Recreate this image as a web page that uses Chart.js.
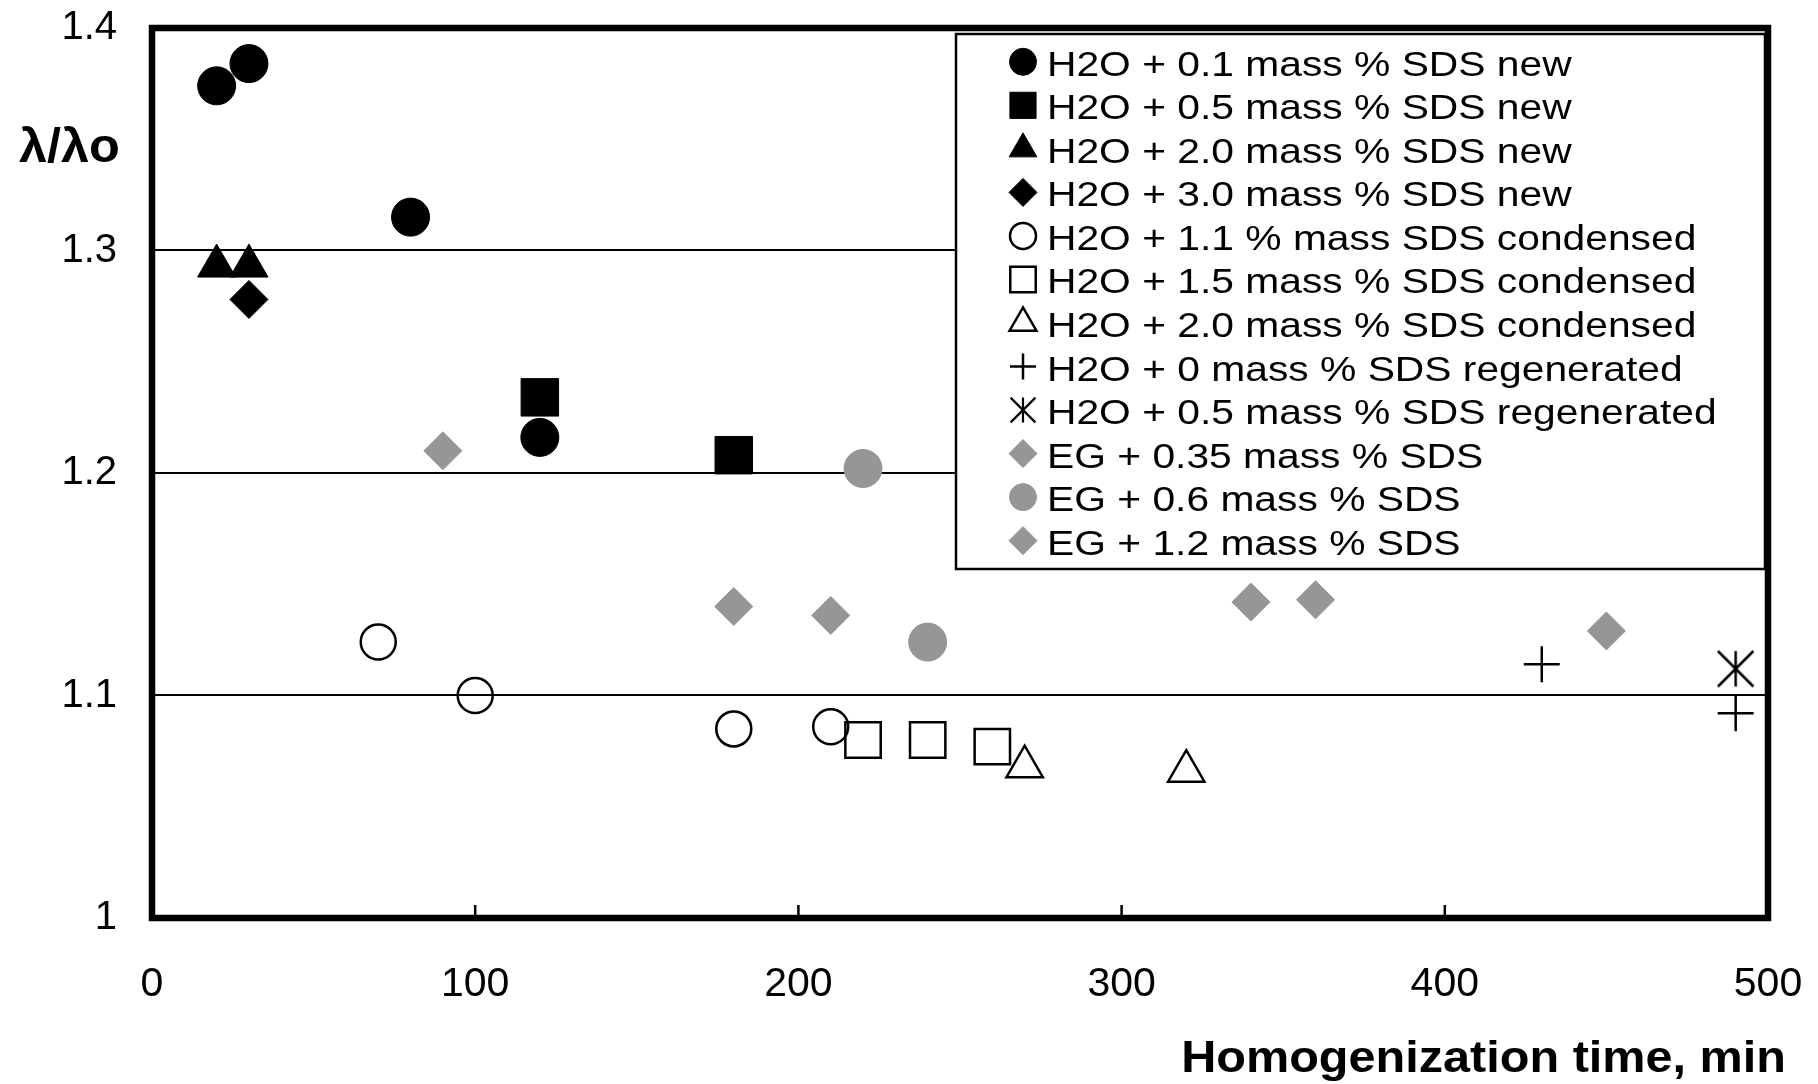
<!DOCTYPE html>
<html>
<head>
<meta charset="utf-8">
<script src="https://cdn.jsdelivr.net/npm/chart.js@4.4.1/dist/chart.umd.min.js"></script>
<style>
  html, body { margin: 0; padding: 0; background: #fff; }
  canvas { display: block; }
</style>
</head>
<body>
<canvas id="chart" width="1818" height="1084"></canvas>
<script>
const FONT = '"Liberation Sans", Arial, sans-serif';

const xTicks = [0, 100, 200, 300, 400, 500];
const yTicks = [1, 1.1, 1.2, 1.3, 1.4];

const seriesLabels = [
    'H2O + 0.1 mass % SDS new',
    'H2O + 0.5 mass % SDS new',
    'H2O + 2.0 mass % SDS new',
    'H2O + 3.0 mass % SDS new',
    'H2O + 1.1 % mass SDS condensed',
    'H2O + 1.5 mass % SDS condensed',
    'H2O + 2.0 mass % SDS condensed',
    'H2O + 0 mass % SDS regenerated',
    'H2O + 0.5 mass % SDS regenerated',
    'EG + 0.35 mass % SDS',
    'EG + 0.6 mass % SDS',
    'EG + 1.2 mass % SDS'
];

// [time, lambda/lambda0]
const h2o01New = [[20, 1.374], [30, 1.384], [80, 1.315], [120, 1.216]];
const h2o05New = [[120, 1.234], [180, 1.208]];
const h2o20New = [[20, 1.293], [30, 1.293]];
const h2o30New = [[30, 1.278]];
const h2o11Cond = [[70, 1.124], [100, 1.100], [180, 1.085], [210, 1.086]];
const h2o15Cond = [[220, 1.080], [240, 1.080], [260, 1.077]];
const h2o20Cond = [[270, 1.068], [320, 1.066]];
const h2o0Regen = [[430, 1.114], [490, 1.092]];
const h2o05Regen = [[490, 1.112]];
const eg035 = [[90, 1.210], [180, 1.140], [210, 1.136]];
const eg06 = [[220, 1.202], [240, 1.124]];
const eg12 = [[340, 1.142], [360, 1.143], [450, 1.129]];

const GRAY = '#969696';

function makeAsterisk(size, lw) {
    const c = document.createElement('canvas');
    c.width = size; c.height = size;
    const g = c.getContext('2d');
    const m = lw / 2 + 0.5;
    g.strokeStyle = '#000';
    g.lineWidth = lw;
    g.beginPath();
    g.moveTo(size / 2, m); g.lineTo(size / 2, size - m);
    g.moveTo(m, m); g.lineTo(size - m, size - m);
    g.moveTo(size - m, m); g.lineTo(m, size - m);
    g.stroke();
    return c;
}
const asteriskBig = makeAsterisk(39, 2.5);
const asteriskSmall = makeAsterisk(28, 2.2);

const toPts = arr => arr.map(p => ({ x: p[0], y: p[1] }));

function series(i, pts, style, radius, legendRadius, fill, stroke, bw) {
    return {
        label: seriesLabels[i],
        data: toPts(pts),
        pointStyle: style,
        pointRadius: radius,
        pointHoverRadius: radius,
        pointBackgroundColor: fill,
        pointBorderColor: stroke,
        pointBorderWidth: bw,
        legendRadius: legendRadius,
        clip: false
    };
}

const NONE = 'rgba(0,0,0,0)';
const datasets = [
    series(0, h2o01New, 'circle', 19, 13.5, '#000', '#000', 1),
    series(1, h2o05New, 'rect', 26.5, 18.5, '#000', '#000', 1),
    series(2, h2o20New, 'triangle', 22, 16, '#000', '#000', 1),
    series(3, h2o30New, 'rectRot', 19, 14, '#000', '#000', 1),
    series(4, h2o11Cond, 'circle', 17.5, 13, NONE, '#000', 2.5),
    series(5, h2o15Cond, 'rect', 25, 18, NONE, '#000', 2.5),
    series(6, h2o20Cond, 'triangle', 21, 15.5, NONE, '#000', 2.5),
    series(7, h2o0Regen, 'cross', 18, 13, NONE, '#000', 2.5),
    series(8, h2o05Regen, asteriskBig, 19, 13, NONE, '#000', 2.5),
    series(9, eg035, 'rectRot', 19, 14, GRAY, GRAY, 1),
    series(10, eg06, 'circle', 19, 13.5, GRAY, GRAY, 1),
    series(11, eg12, 'rectRot', 19, 14, GRAY, GRAY, 1)
];

function drawMarker(ctx, ds, x, y) {
    const r = ds.legendRadius;
    const style = ds.pointStyle;
    if (style instanceof HTMLCanvasElement) {
        ctx.drawImage(asteriskSmall, x - asteriskSmall.width / 2, y - asteriskSmall.height / 2);
        return;
    }
    ctx.beginPath();
    if (style === 'circle') {
        ctx.arc(x, y, r, 0, Math.PI * 2);
    } else if (style === 'rect') {
        const s = Math.SQRT1_2 * r;
        ctx.rect(x - s, y - s, 2 * s, 2 * s);
    } else if (style === 'rectRot') {
        ctx.moveTo(x, y - r); ctx.lineTo(x + r, y); ctx.lineTo(x, y + r); ctx.lineTo(x - r, y);
        ctx.closePath();
    } else if (style === 'triangle') {
        for (let k = 0; k < 3; k++) {
            const a = k * 2 * Math.PI / 3;
            const px = x + Math.sin(a) * r, py = y - Math.cos(a) * r;
            k === 0 ? ctx.moveTo(px, py) : ctx.lineTo(px, py);
        }
        ctx.closePath();
    } else if (style === 'cross') {
        ctx.moveTo(x - r, y); ctx.lineTo(x + r, y);
        ctx.moveTo(x, y - r); ctx.lineTo(x, y + r);
    }
    ctx.fillStyle = ds.pointBackgroundColor;
    ctx.strokeStyle = ds.pointBorderColor;
    ctx.lineWidth = ds.pointBorderWidth;
    if (style !== 'cross') ctx.fill();
    ctx.stroke();
}

function stretchedText(ctx, text, x, y, font, sx, align) {
    ctx.save();
    ctx.font = font;
    ctx.fillStyle = '#000';
    ctx.textBaseline = 'alphabetic';
    ctx.textAlign = 'left';
    const w = ctx.measureText(text).width * sx;
    ctx.translate(align === 'right' ? x - w : x, y);
    ctx.scale(sx, 1);
    ctx.fillText(text, 0, 0);
    ctx.restore();
}

// tick-label overflow would otherwise push the plot area inward
function noOverflow(s) {
    s.paddingTop = 0;
    s.paddingBottom = 0;
    s.paddingLeft = 0;
    s.paddingRight = 0;
}

const decorPlugin = {
    id: 'decor',
    afterDatasetsDraw(chart) {
        const ctx = chart.ctx;
        const area = chart.chartArea;
        const xScale = chart.scales.x;
        ctx.save();

        // legend box inside the plot, top-right
        const lx = 956, ly = area.top + 6, lr = area.right - 3, lb = 569;
        ctx.fillStyle = '#fff';
        ctx.fillRect(lx, ly, lr - lx, lb - ly);
        ctx.strokeStyle = '#000';
        ctx.lineWidth = 2.5;
        ctx.strokeRect(lx, ly, lr - lx, lb - ly);

        chart.data.datasets.forEach((ds, i) => {
            const rowY = 61.8 + i * 43.53;
            drawMarker(ctx, ds, 1023, rowY);
            stretchedText(ctx, ds.label, 1047, rowY + 14, '35px ' + FONT, 1.165, 'left');
        });

        // inward ticks on x axis
        ctx.strokeStyle = '#000';
        ctx.lineWidth = 2.5;
        ctx.beginPath();
        xTicks.slice(1, -1).forEach(v => {
            const px = xScale.getPixelForValue(v);
            ctx.moveTo(px, area.bottom);
            ctx.lineTo(px, area.bottom - 13);
        });
        ctx.stroke();

        // heavy frame
        ctx.lineWidth = 6.5;
        ctx.strokeRect(area.left, area.top, area.right - area.left, area.bottom - area.top);

        // axis titles
        stretchedText(ctx, 'λ/λo', 19, 162, 'bold 48px ' + FONT, 1.05, 'left');
        stretchedText(ctx, 'Homogenization time, min', 1786, 1072, 'bold 45px ' + FONT, 1.08, 'right');
        ctx.restore();
    }
};

new Chart(document.getElementById('chart').getContext('2d'), {
    type: 'scatter',
    data: { datasets: datasets },
    options: {
        responsive: false,
        animation: false,
        layout: { autoPadding: false, padding: { left: 0, top: 28, right: 50, bottom: 0 } },
        plugins: {
            legend: { display: false },
            tooltip: { enabled: false }
        },
        scales: {
            x: {
                type: 'linear',
                min: 0,
                max: 500,
                afterFit: s => { s.height = 166; noOverflow(s); },
                afterBuildTicks: s => { s.ticks = xTicks.map(v => ({ value: v })); },
                grid: { display: false, drawTicks: false },
                border: { display: false },
                ticks: {
                    padding: 42,
                    color: '#000',
                    maxRotation: 0,
                    autoSkip: false,
                    font: { family: FONT, size: 41 }
                }
            },
            y: {
                type: 'linear',
                min: 1,
                max: 1.4,
                afterFit: s => { s.width = 152; noOverflow(s); },
                afterBuildTicks: s => { s.ticks = yTicks.map(v => ({ value: v })); },
                grid: {
                    color: c => (c.tick && c.tick.value > 1 && c.tick.value < 1.4) ? '#000' : NONE,
                    lineWidth: 2,
                    drawTicks: false
                },
                border: { display: false },
                ticks: {
                    padding: 35,
                    color: '#000',
                    autoSkip: false,
                    font: { family: FONT, size: 40 },
                    callback: v => String(v)
                }
            }
        }
    },
    plugins: [decorPlugin]
});
</script>
</body>
</html>
